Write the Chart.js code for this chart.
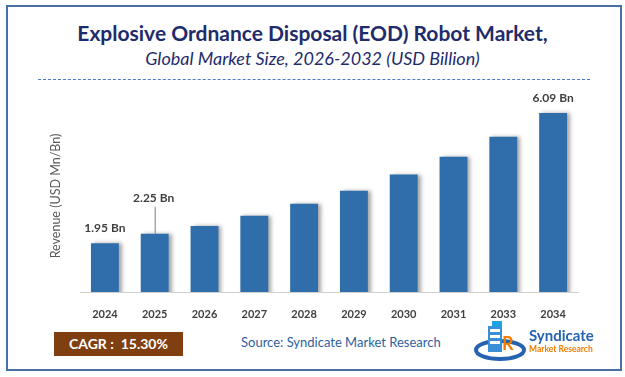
<!DOCTYPE html>
<html lang="en">
<head>
<meta charset="UTF-8">
<title>EOD Robot Market</title>
<style>
    body {
        margin: 0;
        width: 625px;
        height: 377px;
        background: white;
        font-family: Lato, "Open Sans", sans-serif;
        position: relative;
        overflow: hidden;
    }
    #frame {
        position: absolute;
        left: 6px; top: 5px;
        width: 612px; height: 362px;
        border: 2px solid #4a6fa5;
    }
    #titulo {
        position: absolute;
        top: 20px; left: 0; width: 625px;
        text-align: center;
        font-weight: bold;
        font-size: 21px;
        color: #1f2c6b;
    }
    #subtitulo {
        position: absolute;
        top: 47px; left: 0; width: 625px;
        text-align: center;
        font-style: italic;
        font-size: 18px;
        color: #1f2c6b;
    }
    #linha {
        position: absolute;
        left: 38px; top: 79px;
        width: 552px;
        border-top: 1px dashed #4a7bc8;
    }
    #grafico-container {
        position: absolute;
        left: 0; top: 85px;
        width: 625px; height: 240px;
    }
    #cagr {
        position: absolute;
        left: 54px; top: 332px;
        width: 129px; height: 24px;
        background: #7f3f10;
        color: white;
        font-weight: bold;
        font-size: 14px;
        line-height: 24px;
        text-align: center;
    }
    #fonte {
        position: absolute;
        left: 241px; top: 334px;
        font-size: 13px;
        color: #2e5f9e;
    }
    #logo {
        position: absolute;
        left: 474px; top: 320px;
    }
    #logo-nome {
        position: absolute;
        left: 529px; top: 326px;
        font-weight: bold;
        font-size: 15px;
        color: #2563b0;
    }
    #logo-sub {
        position: absolute;
        left: 529px; top: 344px;
        font-weight: bold;
        font-size: 8.5px;
        color: #f07c00;
    }
</style>
</head>
<body>
    <div id="frame"></div>
    <div id="titulo">Explosive Ordnance Disposal (EOD) Robot Market,</div>
    <div id="subtitulo">Global Market Size, 2026-2032 (USD Billion)</div>
    <div id="linha"></div>

    <div id="grafico-container">
        <canvas id="graficoMercado"></canvas>
    </div>

    <div id="cagr">CAGR :&nbsp; 15.30%</div>
    <div id="fonte">Source: Syndicate Market Research</div>
    <svg id="logo" width="56" height="42" viewBox="0 0 56 42">
        <ellipse cx="26" cy="30" rx="24" ry="9" fill="none" stroke="#2563b0" stroke-width="4"/>
        <rect x="14" y="6" width="14" height="26" fill="#3a8fd6"/>
        <rect x="16" y="9" width="10" height="3" fill="white"/>
        <rect x="16" y="15" width="10" height="3" fill="white"/>
        <rect x="16" y="21" width="10" height="3" fill="white"/>
        <rect x="18" y="1" width="10" height="6" fill="#1fa3e0"/>
        <text x="28" y="30" font-family="Lato" font-weight="bold" font-size="18" fill="#f07c00">R</text>
    </svg>
    <div id="logo-nome">Syndicate</div>
    <div id="logo-sub">Market Research</div>

    <script src="https://cdn.jsdelivr.net/npm/chart.js"></script>
    <script>
        // dados do grafico
        const anos = ['2024', '2025', '2026', '2027', '2028', '2029', '2030', '2031', '2033', '2034'];
        const receita = [1.95, 2.25, 2.50, 2.82, 3.20, 3.62, 4.13, 4.70, 5.33, 6.09];
        const rotulos = ['1.95 Bn', '2.25 Bn', '', '', '', '', '', '', '', '6.09 Bn'];

        // sombra nas barras
        const sombraPlugin = {
            id: 'sombra',
            beforeDatasetsDraw(chart) {
                const ctx = chart.ctx;
                ctx.save();
                ctx.shadowColor = 'rgba(0, 0, 0, 0.35)';
                ctx.shadowOffsetX = 3;
                ctx.shadowOffsetY = 0;
                ctx.shadowBlur = 4;
            },
            afterDatasetsDraw(chart) {
                chart.ctx.restore();
            }
        };

        // rotulos de valor
        const rotuloPlugin = {
            id: 'rotulos',
            afterDatasetsDraw(chart) {
                const ctx = chart.ctx;
                const meta = chart.getDatasetMeta(0);
                ctx.save();
                ctx.font = 'bold 12px Lato';
                ctx.fillStyle = '#404040';
                ctx.textAlign = 'center';
                ctx.textBaseline = 'middle';
                meta.data.forEach((bar, i) => {
                    if (!rotulos[i]) return;
                    if (i === 1) {
                        ctx.fillText(rotulos[i], bar.x - 1, bar.y - 36);
                        ctx.strokeStyle = '#7f7f7f';
                        ctx.lineWidth = 1;
                        ctx.beginPath();
                        ctx.moveTo(bar.x + 0.5, bar.y - 27);
                        ctx.lineTo(bar.x + 0.5, bar.y);
                        ctx.stroke();
                    } else {
                        ctx.fillText(rotulos[i], bar.x, bar.y - 15);
                    }
                });
                ctx.restore();
            }
        };

        const ctx = document.getElementById('graficoMercado').getContext('2d');
        new Chart(ctx, {
            type: 'bar',
            data: {
                labels: anos,
                datasets: [{
                    data: receita,
                    backgroundColor: '#2f6eab',
                    barPercentage: 0.56,
                    categoryPercentage: 1
                }]
            },
            options: {
                responsive: true,
                maintainAspectRatio: false,
                animation: false,
                layout: {
                    padding: { left: 45, right: 47, top: 15, bottom: 0 }
                },
                plugins: {
                    legend: { display: false },
                    tooltip: { enabled: false }
                },
                scales: {
                    x: {
                        grid: { display: false },
                        border: { color: '#d0d0d0' },
                        ticks: {
                            color: '#404040',
                            font: { family: 'Lato', weight: 'bold', size: 11 },
                            padding: 8
                        },
                        afterFit(scale) { scale.height = 33; }
                    },
                    y: {
                        min: 0.4,
                        max: 6.5,
                        grid: { display: false },
                        border: { display: false },
                        ticks: { display: false },
                        title: {
                            display: true,
                            text: 'Revenue (USD Mn/Bn)',
                            color: '#595959',
                            font: { family: 'Lato', size: 12.5 },
                            padding: { top: 3, bottom: 4 }
                        },
                        afterFit(scale) { scale.width = 35; }
                    }
                }
            },
            plugins: [sombraPlugin, rotuloPlugin]
        });
    </script>
</body>
</html>
